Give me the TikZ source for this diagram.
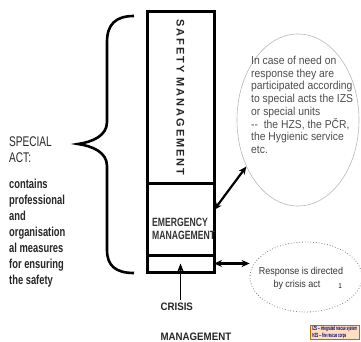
\documentclass[tikz,border=0pt]{standalone}
\usepackage{fontspec}
\setmainfont{Liberation Sans}
\newfontfamily\narrowfont[FakeStretch=0.72]{Liberation Sans}
\newfontfamily\ovalfont[FakeStretch=0.9]{Liberation Sans}
\newfontfamily\legendfont[FakeStretch=0.5]{Liberation Sans}
\newfontfamily\spacedfont[LetterSpace=18]{Liberation Sans}
\usetikzlibrary{shapes.geometric, arrows.meta, positioning}

\tikzset{
    colbox/.style={draw, line width=3pt, minimum width=67pt, inner sep=0pt, outer sep=0pt},
    dblarrow/.style={{Stealth[length=8pt,width=7pt]}-{Stealth[length=8pt,width=7pt]}, line width=2.2pt},
    uparrow/.style={-{Stealth[length=9pt,width=7pt]}, line width=1.9pt},
    lefttext/.style={anchor=north west, align=left, inner sep=0pt}
}

\begin{document}
\begin{tikzpicture}[x=1pt, y=-1pt]
    \useasboundingbox (0,0) rectangle (361,342);
    \clip (0,0) rectangle (361,342);

    % Main column
    \node[colbox, minimum height=171pt] (safety) at (180.5,97.5) {};
    \node[colbox, minimum height=72pt, below=0pt of safety] (emergency) {};
    \node[colbox, minimum height=17pt, below=0pt of emergency] (crisis) {};

    \node[rotate=-90, font=\spacedfont\bfseries\fontsize{11}{12}\selectfont, text=black!85] (safetylbl) at (safety.center) {SAFETY MANAGEMENT};
    \node[anchor=west, align=left, inner sep=0pt, font=\narrowfont\bfseries\fontsize{12}{13}\selectfont, text=black!80] (emlbl) at (152,228.5) {EMERGENCY\\MANAGEMENT};

    % Brace for the special act
    \draw[line width=2.6pt] (134,16) .. controls (116,16) and (107,24) .. (107,42) -- (107,122)
        .. controls (107,136) and (92,142) .. (78,144)
        .. controls (92,146) and (107,152) .. (107,166) -- (107,250)
        .. controls (107,266) and (116,273) .. (134,273);

    % Left texts
    \node[lefttext, font=\narrowfont\fontsize{14}{16}\selectfont, text=black!85] (special) at (9,137) {SPECIAL\\ACT:};
    \node[lefttext, font=\narrowfont\bfseries\fontsize{13}{16}\selectfont, text=black!85] (contains) at (9,179)
        {contains\\professional\\and\\organisation\\al measures\\for ensuring\\the safety};

    % Oval with the units
    \node[ellipse, draw=gray!55, line width=0.6pt, minimum width=122pt, minimum height=172pt] (need) at (298,120) {};
    \node[lefttext, font=\ovalfont\fontsize{11.5}{12.7}\selectfont, text=black!70] (needtext) at (251,56)
        {In case of need on\\response they are\\participated according\\to special acts the IZS\\or special units\\--~ the HZS, the PČR,\\ the Hygienic service\\etc.};
    \draw[dblarrow] (emergency.15) -- (need.222);

    % Dotted oval for the crisis act
    \node[ellipse, draw=gray, dotted, line width=0.8pt, minimum width=112pt, minimum height=70pt] (response) at (306,277) {};
    \node[font=\ovalfont\fontsize{10}{12}\selectfont, text=black!80] (resptext) at (301,272) {Response is directed};
    \node[font=\ovalfont\fontsize{10}{12}\selectfont, text=black!80] (respline) at (297,285) {by crisis act};
    \node[font=\ovalfont\fontsize{7}{8}\selectfont] (slidenum) at (340,286) {1};
    \draw[dblarrow] (crisis.east) -- (crisis.east -| response.west);

    % Crisis management
    \node[anchor=west, font=\ovalfont\bfseries\fontsize{10.8}{12}\selectfont, text=black!85] (crisislbl) at (157,307) {CRISIS};
    \node[anchor=west, font=\ovalfont\bfseries\fontsize{10.8}{12}\selectfont, text=black!85] (crisismgmt) at (157,337) {MANAGEMENT};
    \draw[uparrow] (crisis.center |- crisislbl.north) -- (crisis.center);

    % Legend
    \node[draw=orange!80!black, fill=orange!25, anchor=north west, inner sep=1pt, minimum width=49pt, align=left,
        font=\legendfont\bfseries\fontsize{6}{6.8}\selectfont, text=blue!45!black] (legend) at (310,325)
        {IZS -- integrated rescue system\\HZS -- fire rescue corps};
\end{tikzpicture}
\end{document}
